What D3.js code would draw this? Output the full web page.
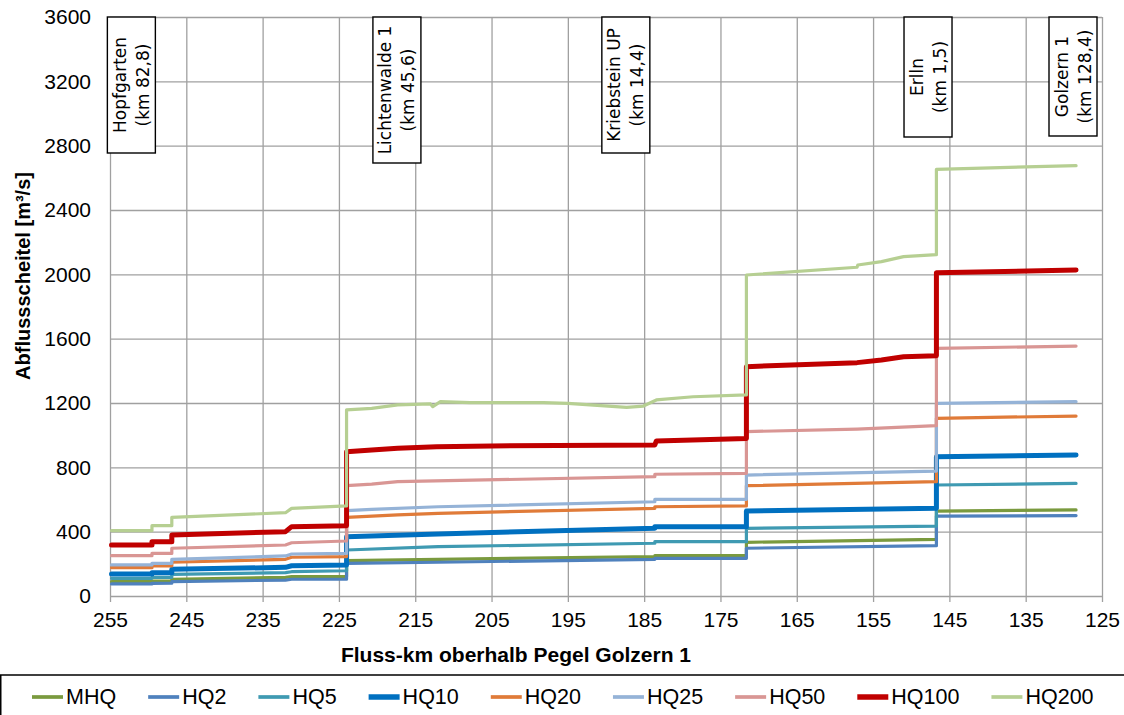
<!DOCTYPE html>
<meta charset="utf-8">
<style>
body { margin: 0; background: #fff; }
svg { display: block; font-family: Arial, "Liberation Sans", sans-serif; }
.grid line { stroke: #a0a0a0; stroke-width: 1.3px; }
.grid path { display: none; }
.tick text { fill: #000; }
.series { fill: none; stroke-linejoin: round; stroke-linecap: round; }
.station rect { fill: #fff; stroke: #000; stroke-width: 1.4px; }
.station text { font-family: "DejaVu Sans", Verdana, sans-serif; font-size: 17px; }
</style>
<svg width="1124" height="715"></svg>
<script src="https://d3js.org/d3.v7.min.js"></script>
<script>

// series names, in legend order
const seriesNames = ["MHQ", "HQ2", "HQ5", "HQ10", "HQ20", "HQ25", "HQ50", "HQ100", "HQ200"];

// [Fluss-km, Abflussscheitel m3/s] pairs
const mhq = [[254.8,89],[249.5,89],[249.5,92],[246.9,92],[246.9,104],[232,116],[231.2,120],[224,122],[224,220],[212,228],[183.6,245],[183.6,251],[171.6,252],[171.6,334],[146.7,352],[146.7,528],[128.4,535]];
const hq2 = [[254.8,75],[249.5,75],[249.5,79],[246.9,80],[246.9,89],[232,99],[231.2,104],[224,104],[224,203],[212,210],[183.6,228],[183.6,234],[171.6,234],[171.6,297],[146.7,313],[146.7,497],[128.4,500]];
const hq5 = [[254.8,110],[249.5,110],[249.5,116],[246.9,116],[246.9,135],[232,145],[231.2,151],[224,157],[224,286],[212,307],[183.6,328],[183.6,338],[171.6,338],[171.6,421],[146.7,435],[146.7,690],[128.4,700]];
const hq10 = [[254.8,137],[249.5,137],[249.5,145],[246.9,145],[246.9,166],[232,178],[231.2,188],[224,193],[224,369],[212,386],[183.6,421],[183.6,431],[171.6,431],[171.6,528],[146.7,545],[146.7,866],[128.4,877]];
const hq20 = [[254.8,176],[249.5,176],[249.5,187],[246.9,187],[246.9,210],[232,228],[231.2,241],[224,245],[224,489],[217.3,504],[212,514],[183.6,545],[183.6,555],[171.6,560],[171.6,686],[146.7,711],[146.7,1105],[128.4,1119]];
const hq25 = [[254.8,193],[249.5,193],[249.5,203],[246.9,203],[246.9,228],[232,249],[231.2,261],[224,265],[224,531],[220.7,539],[212,555],[183.6,586],[183.6,601],[171.6,601],[171.6,752],[146.7,777],[146.7,1198],[128.4,1208]];
const hq50 = [[254.8,251],[249.5,251],[249.5,265],[246.9,265],[246.9,297],[232,317],[231.2,331],[224,342],[224,686],[220.7,696],[217.3,711],[183.6,742],[183.6,757],[171.6,763],[171.6,1022],[157.1,1038],[146.7,1059],[146.7,1540],[128.4,1554]];
const hq100 = [[254.8,317],[249.5,317],[249.5,338],[246.9,338],[246.9,379],[232,400],[231.2,431],[224,437],[224,897],[220.7,908],[217.3,918],[212.2,928],[205,933],[183.6,939],[183.4,964],[171.6,980],[171.6,1426],[157.1,1451],[153.9,1467],[151,1488],[146.7,1494],[146.7,2010],[128.4,2027]];
const hq200 = [[254.8,406],[249.5,406],[249.5,437],[246.9,437],[246.9,489],[232,518],[231.2,545],[224,560],[224,1157],[220.7,1167],[217.3,1188],[213,1194],[212.7,1177],[211.7,1208],[207.8,1202],[198.2,1202],[195,1198],[187.3,1173],[185.1,1181],[183.4,1219],[178.6,1239],[171.6,1250],[171.6,1996],[157.1,2044],[157,2058],[153.9,2079],[151,2110],[146.7,2122],[146.7,2653],[128.4,2676]];

const seriesValues = [mhq, hq2, hq5, hq10, hq20, hq25, hq50, hq100, hq200];

// gauge labels
const stationNames = ["Hopfgarten", "Lichtenwalde 1", "Kriebstein UP", "Erlln", "Golzern 1"];
const stationKmText = ["(km 82,8)", "(km 45,6)", "(km 14,4)", "(km 1,5)", "(km 128,4)"];
const stationPos = [252.2, 217.4, 187.4, 147.8, 128.8];

const xTicks = d3.range(255, 124, -10);
const yTicks = d3.range(0, 3601, 400);

// styling
const colors = ["#7a9a3e", "#4f81bd", "#3f9ab2", "#0070c0", "#e07b39", "#95b3d7", "#d99694", "#c00000", "#b6cf92"];
const widths = [3.2, 3.2, 3.2, 5, 3.2, 3.2, 3.2, 5, 3.2];
const boxH = [136, 146, 136, 120, 119];

const svg = d3.select("svg");
const mLeft = 110, mRight = 1102, mTop = 17, mBottom = 596;

const x = d3.scaleLinear().domain([255, 125]).range([mLeft, mRight]);
const y = d3.scaleLinear().domain([0, 3600]).range([mBottom, mTop]);

// vertical grid + x axis
svg.append("g")
    .attr("class", "grid")
    .attr("transform", "translate(0," + mBottom + ")")
    .call(d3.axisBottom(x).tickValues(xTicks).tickSize(-(mBottom - mTop)).tickSizeOuter(0).tickFormat(""));
svg.append("g")
    .attr("class", "grid")
    .attr("transform", "translate(0," + mBottom + ")")
    .call(d3.axisBottom(x).tickValues(xTicks).tickSize(6).tickSizeOuter(0).tickPadding(10).tickFormat(d3.format("d")))
    .call(g => g.selectAll("text").attr("font-size", 21).attr("dy", "0.71em"));

// horizontal grid + y labels
svg.append("g")
    .attr("class", "grid")
    .attr("transform", "translate(" + mLeft + ",0)")
    .call(d3.axisLeft(y).tickValues(yTicks).tickSize(-(mRight - mLeft)).tickSizeOuter(0).tickPadding(19).tickFormat(d3.format("d")))
    .call(g => g.selectAll("text").attr("font-size", 21));

// lines
const line = d3.line().x(d => x(d[0])).y(d => y(d[1]));
svg.append("g").selectAll("path")
  .data(seriesValues)
  .enter().append("path")
    .attr("class", "series")
    .attr("d", line)
    .attr("stroke", (d, i) => colors[i])
    .attr("stroke-width", (d, i) => widths[i]);

// gauge boxes
const st = svg.append("g").selectAll("g")
  .data(stationNames)
  .enter().append("g")
    .attr("class", "station")
    .attr("transform", (d, i) => "translate(" + x(stationPos[i]) + "," + (mTop + boxH[i] / 2) + ")");
st.append("rect")
    .attr("x", -24).attr("width", 48)
    .attr("y", (d, i) => -boxH[i] / 2).attr("height", (d, i) => boxH[i]);
const tx = st.append("text")
    .attr("transform", "rotate(-90)")
    .attr("text-anchor", "middle");
tx.append("tspan").attr("x", 0).attr("y", -11.5).attr("dominant-baseline", "central").text(d => d);
tx.append("tspan").attr("x", 0).attr("y", 11.5).attr("dominant-baseline", "central").text((d, i) => stationKmText[i]);

// axis titles
svg.append("text")
    .attr("x", 516).attr("y", 662)
    .attr("text-anchor", "middle")
    .attr("font-size", 21).attr("font-weight", "bold")
    .text("Fluss-km oberhalb Pegel Golzern 1");
svg.append("text")
    .attr("transform", "translate(23,276) rotate(-90)")
    .attr("text-anchor", "middle").attr("dominant-baseline", "central")
    .attr("font-size", 20).attr("font-weight", "bold")
    .text("Abflussscheitel [m³/s]");

// legend
svg.append("rect")
    .attr("x", 0.75).attr("y", 675).attr("width", 1130).attr("height", 60)
    .attr("fill", "none").attr("stroke", "#000").attr("stroke-width", 1.5);
let lx = 32;
seriesNames.forEach(function(name, i) {
  svg.append("line")
      .attr("x1", lx).attr("x2", lx + 31)
      .attr("y1", 697).attr("y2", 697)
      .attr("stroke", colors[i]).attr("stroke-width", widths[i] + 0.5);
  const t = svg.append("text")
      .attr("x", lx + 34).attr("y", 704)
      .attr("font-size", 21.5)
      .text(name);
  lx += 31 + 3 + t.node().getComputedTextLength() + 32;
});
</script>
